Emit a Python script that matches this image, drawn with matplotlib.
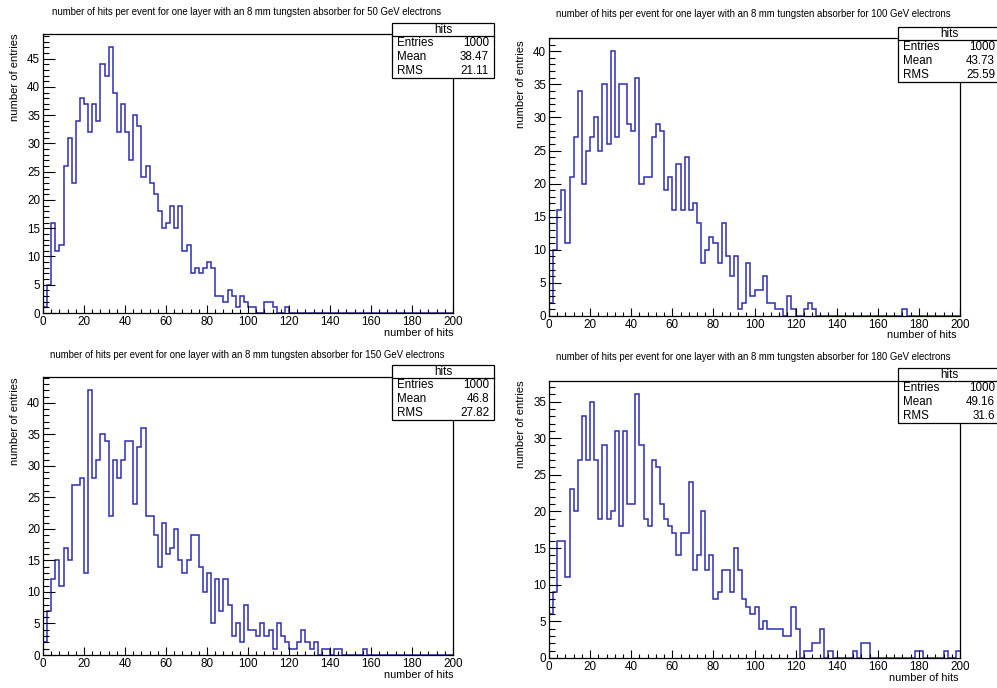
import numpy as np
import matplotlib
matplotlib.use("Agg")
import matplotlib.pyplot as plt
from matplotlib.ticker import MultipleLocator
from matplotlib.patches import Rectangle
from matplotlib.lines import Line2D

plt.rcParams['font.family'] = ['Liberation Sans', 'DejaVu Sans']

# ---------------- data (bin contents, 100 bins of width 2 from 0 to 200) ----------------
bin_range = (0, 200)
n_bins = 100

energies = [50, 100, 150, 180]
entries = [1000, 1000, 1000, 1000]
means = ["38.47", "43.73", "46.8", "49.16"]
rms_values = ["21.11", "25.59", "27.82", "31.6"]

counts_50 = [1, 5, 16, 11, 12, 26, 31, 23, 34, 38,
             37, 32, 37, 34, 44, 42, 47, 39, 32, 37,
             32, 27, 35, 33, 24, 26, 23, 21, 18, 15,
             16, 19, 15, 19, 11, 12, 7, 8, 7, 8,
             9, 8, 3, 3, 2, 4, 3, 1, 3, 2,
             1, 1, 0, 0, 2, 2, 1, 0, 0, 1] + [0] * 40

counts_100 = [2, 10, 16, 19, 11, 21, 27, 34, 20, 25,
              27, 30, 25, 35, 26, 40, 27, 35, 35, 29,
              28, 36, 20, 21, 21, 27, 29, 28, 19, 21,
              16, 23, 16, 24, 16, 17, 14, 8, 10, 12,
              11, 8, 14, 9, 6, 9, 1, 2, 8, 3,
              4, 4, 6, 2, 2, 1, 1, 0, 3, 1,
              0, 0, 1, 2, 1, 0, 0, 0, 0, 0,
              0, 0, 0, 0, 0, 0, 0, 0, 0, 0,
              0, 0, 0, 0, 0, 0, 1, 0, 0, 0,
              0, 0, 0, 0, 0, 0, 0, 0, 0, 0]

counts_150 = [2, 7, 12, 15, 11, 17, 15, 27, 27, 28,
              13, 42, 28, 31, 35, 34, 22, 31, 28, 31,
              34, 34, 24, 33, 36, 22, 22, 19, 14, 21,
              16, 17, 20, 15, 13, 15, 19, 19, 14, 10,
              13, 5, 12, 7, 12, 8, 3, 5, 2, 8,
              4, 4, 3, 5, 3, 4, 1, 5, 3, 2,
              1, 1, 2, 4, 2, 1, 2, 0, 1, 1,
              0, 1, 1, 0, 0, 0, 0, 0, 1, 0,
              0, 0, 0, 0, 0, 0, 0, 0, 0, 0,
              0, 0, 0, 0, 0, 0, 0, 0, 0, 0]

counts_180 = [6, 9, 16, 16, 11, 23, 20, 27, 33, 27,
              35, 27, 19, 29, 19, 20, 31, 18, 31, 21,
              21, 36, 29, 19, 18, 27, 26, 21, 19, 18,
              17, 14, 17, 17, 24, 12, 14, 20, 12, 14,
              8, 9, 12, 12, 9, 15, 12, 8, 7, 6,
              7, 4, 5, 4, 4, 4, 4, 3, 3, 7,
              4, 0, 1, 1, 2, 2, 4, 0, 1, 0,
              0, 0, 0, 0, 1, 0, 2, 2, 0, 0,
              0, 0, 0, 0, 0, 0, 0, 0, 0, 1,
              1, 0, 0, 0, 0, 0, 1, 0, 0, 1]

all_counts = [counts_50, counts_100, counts_150, counts_180]

# ---------------- layout (pixels) ----------------
W, H = 997, 688
fig = plt.figure(figsize=(W / 100, H / 100), dpi=100)

# (left, top, right, bottom) of each frame
frames = [(43, 34, 453, 313), (549, 38, 960, 316),
          (43, 377, 453, 655), (549, 381, 960, 658)]
stat_pos = [(392, 23), (898, 27), (392, 365), (898, 368)]
title_pos = [(247, 12), (753, 14), (247, 355), (753, 357)]
ylab_pos = [(15, 33), (521, 40), (15, 377), (521, 380)]
xlab_pos = [(453, 333), (956, 335), (453, 675), (958, 678)]

hist_color = '#2e2eb4'
edges = np.linspace(bin_range[0], bin_range[1], n_bins + 1)


def fx(x):
    return x / W


def fy(y):
    return 1 - y / H


def stat_box(l, t, ent, mean, rms):
    w, hh, rh = 102, 13, 14
    h = hh + 3 * rh
    fig.add_artist(Rectangle((fx(l), fy(t + h)), w / W, h / H, transform=fig.transFigure,
                             fc='white', ec='black', lw=0.9, zorder=10))
    fig.add_artist(Line2D([fx(l), fx(l + w)], [fy(t + hh)] * 2, transform=fig.transFigure,
                          color='black', lw=0.9, zorder=11))
    fig.text(fx(l + w / 2), fy(t + hh / 2 + 0.5), "hits", ha='center', va='center',
             fontsize=8.4, zorder=12)
    rows = [("Entries", str(ent)), ("Mean", mean), ("RMS", rms)]
    for i, (lab, val) in enumerate(rows):
        yc = t + hh + rh * (i + 0.5)
        fig.text(fx(l + 5), fy(yc), lab, ha='left', va='center', fontsize=8.4, zorder=12)
        fig.text(fx(l + w - 5), fy(yc), val, ha='right', va='center', fontsize=8.4, zorder=12)


for i in range(4):
    l, t, r, b = frames[i]
    ax = fig.add_axes([fx(l), fy(b), (r - l) / W, (b - t) / H])
    vals = np.array(all_counts[i], dtype=float)
    ax.stairs(vals, edges, color=hist_color, lw=1.1, baseline=None)
    ax.set_xlim(bin_range)
    ax.set_ylim(0, vals.max() * 1.05)
    ax.xaxis.set_major_locator(MultipleLocator(20))
    ax.xaxis.set_minor_locator(MultipleLocator(4))
    ax.yaxis.set_major_locator(MultipleLocator(5))
    ax.yaxis.set_minor_locator(MultipleLocator(1))
    ax.tick_params(axis='x', which='major', direction='in', length=5.8, width=0.8,
                   labelsize=8.4, pad=2.0, top=False)
    ax.tick_params(axis='x', which='minor', direction='in', length=2.9, width=0.8, top=False)
    ax.tick_params(axis='y', which='major', direction='in', length=8.6, width=0.8,
                   labelsize=8.4, pad=2.0, right=False)
    ax.tick_params(axis='y', which='minor', direction='in', length=4.3, width=0.8, right=False)
    for s in ax.spines.values():
        s.set_linewidth(0.9)
        s.set_color('black')

    tx, ty = title_pos[i]
    fig.text(fx(tx), fy(ty), "number of hits per event for one layer with an 8 mm tungsten "
             f"absorber for {energies[i]} GeV electrons", ha='center', va='center', fontsize=6.9)
    yx, yy = ylab_pos[i]
    fig.text(fx(yx), fy(yy), "number of entries", rotation=90, ha='center', va='top', fontsize=8.1)
    xx, xy = xlab_pos[i]
    fig.text(fx(xx), fy(xy), "number of hits", ha='right', va='center', fontsize=7.8)

    sl, st = stat_pos[i]
    stat_box(sl, st, entries[i], means[i], rms_values[i])

fig.savefig("out.png", dpi=100)
